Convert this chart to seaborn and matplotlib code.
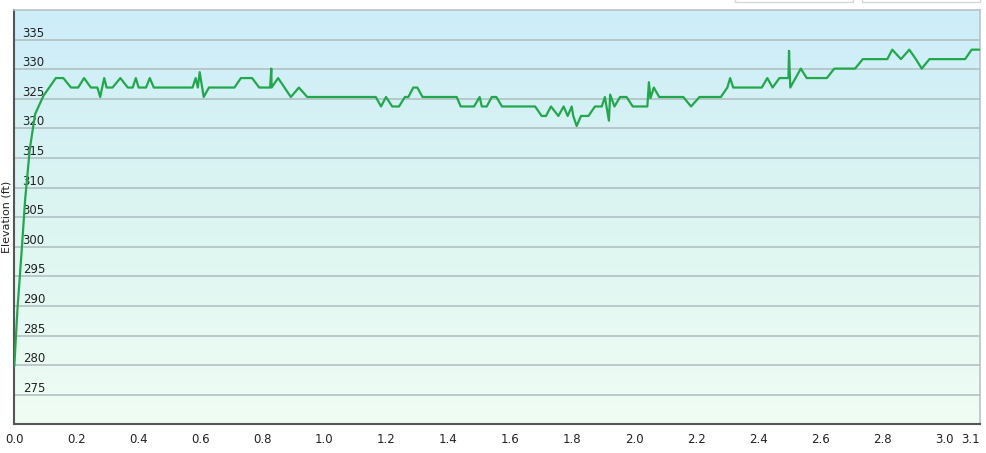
import numpy as np
import pandas as pd
import matplotlib
matplotlib.use("Agg")
import matplotlib.pyplot as plt
from matplotlib.colors import LinearSegmentedColormap
from matplotlib.patches import Rectangle
from matplotlib.transforms import ScaledTranslation
import seaborn as sns

# distance (mi) and elevation (ft)
distance = [0.000, 0.010, 0.015, 0.024, 0.035, 0.050, 0.067, 0.094, 0.134, 0.158, 0.183,
            0.206, 0.225, 0.247, 0.268, 0.277, 0.290, 0.298, 0.317, 0.342, 0.366,
            0.382, 0.392, 0.401, 0.425, 0.437, 0.450, 0.575, 0.585, 0.592, 0.598,
            0.611, 0.628, 0.710, 0.731, 0.767, 0.790, 0.825, 0.829, 0.830, 0.851,
            0.892, 0.918, 0.945, 1.166, 1.183, 1.199, 1.219, 1.241, 1.260, 1.271,
            1.287, 1.300, 1.317, 1.427, 1.440, 1.483, 1.501, 1.508, 1.524, 1.540,
            1.555, 1.573, 1.680, 1.701, 1.715, 1.731, 1.755, 1.772, 1.785, 1.798,
            1.803, 1.814, 1.828, 1.852, 1.873, 1.895, 1.905, 1.918, 1.922, 1.936,
            1.954, 1.975, 1.995, 2.042, 2.047, 2.052, 2.063, 2.080, 2.158, 2.183,
            2.210, 2.279, 2.300, 2.309, 2.319, 2.411, 2.429, 2.446, 2.468, 2.497,
            2.499, 2.503, 2.537, 2.556, 2.621, 2.645, 2.712, 2.737, 2.816, 2.832,
            2.860, 2.887, 2.908, 2.927, 2.952, 3.067, 3.088, 3.113]
elevation = [279.8, 289.3, 293.0, 299.5, 308.0, 316.5, 322.4, 325.5, 328.5, 328.5, 326.9,
             326.9, 328.5, 326.9, 326.9, 325.3, 328.5, 326.9, 326.9, 328.5, 326.9,
             326.9, 328.5, 326.9, 326.9, 328.5, 326.9, 326.9, 328.5, 326.9, 329.5,
             325.3, 326.9, 326.9, 328.5, 328.5, 326.9, 326.9, 330.1, 326.9, 328.5,
             325.3, 326.9, 325.3, 325.3, 323.7, 325.3, 323.7, 323.7, 325.3, 325.3,
             326.9, 326.9, 325.3, 325.3, 323.7, 323.7, 325.3, 323.7, 323.7, 325.3,
             325.3, 323.7, 323.7, 322.1, 322.1, 323.7, 322.1, 323.7, 322.1, 323.7,
             322.1, 320.4, 322.1, 322.1, 323.7, 323.7, 325.3, 321.3, 325.7, 323.7,
             325.3, 325.3, 323.7, 323.7, 327.8, 325.1, 326.9, 325.3, 325.3, 323.7,
             325.3, 325.3, 326.9, 328.5, 326.9, 326.9, 328.5, 326.9, 328.5, 328.5,
             333.1, 326.9, 330.1, 328.5, 328.5, 330.1, 330.1, 331.7, 331.7, 333.3,
             331.7, 333.3, 331.7, 330.1, 331.7, 331.7, 333.3, 333.3]

x_ticks = [0.0, 0.2, 0.4, 0.6, 0.8, 1.0, 1.2, 1.4, 1.6, 1.8, 2.0, 2.2, 2.4, 2.6, 2.8, 3.0]
y_ticks = [275, 280, 285, 290, 295, 300, 305, 310, 315, 320, 325, 330, 335]

df = pd.DataFrame({"Distance": distance, "Elevation": elevation})

sns.set_style("white")
plt.rcParams["font.family"] = ["DejaVu Sans"]

fig = plt.figure(figsize=(9.86, 4.53), dpi=100)
ax = fig.add_axes([14.3 / 986, 1 - 424.3 / 453, (980 - 14.3) / 986, (424.3 - 10) / 453])

xmax = distance[-1] + 0.002
ymin, ymax = 270, 340

# background gradient, light blue on top to pale green at the bottom
cmap = LinearSegmentedColormap.from_list("bg", ["#f0fdf4", "#dcf5f1", "#cdedf9"])
grad = np.linspace(0, 1, 256).reshape(-1, 1)
ax.imshow(grad, cmap=cmap, origin="lower", aspect="auto",
          extent=[0, xmax, ymin, ymax], zorder=0)

sns.lineplot(data=df, x="Distance", y="Elevation", ax=ax, color="#22a84c",
             linewidth=1.6, estimator=None, sort=False, zorder=3)

ax.set_xlim(0, xmax)
ax.set_ylim(ymin, ymax)

ax.set_xticks(x_ticks + [xmax])
ax.set_xticklabels([f"{t:.1f}" for t in x_ticks] + ["3.1"], fontsize=8.5, color="#222222")
ax.set_yticks(y_ticks)
ax.set_yticklabels([str(t) for t in y_ticks], fontsize=8.5, color="#222222")
for lab in ax.get_yticklabels():
    lab.set_horizontalalignment("left")
    lab.set_verticalalignment("bottom")
last = ax.get_xticklabels()[-1]
last.set_horizontalalignment("right")
last.set_transform(last.get_transform() + ScaledTranslation(-3 / 100, 0, fig.dpi_scale_trans))

ax.tick_params(axis="y", length=0, pad=-6)
ax.tick_params(axis="x", length=4, width=1, color="#555555", pad=2)

ax.set_axisbelow(True)
ax.grid(axis="y", color="#b2c0c3", linewidth=1.2)
ax.grid(axis="x", visible=False)

for side in ["top", "right"]:
    ax.spines[side].set_color("#b8c3c7")
    ax.spines[side].set_linewidth(1.2)
for side in ["left", "bottom"]:
    ax.spines[side].set_color("#555555")
    ax.spines[side].set_linewidth(1.5)

ax.set_xlabel("")
ax.set_ylabel("Elevation (ft)", fontsize=8, color="#222222")
ax.yaxis.set_label_coords(-0.003, 0.5)

# the two boxes peeking in at the top right
for x0 in [735, 862]:
    fig.patches.append(Rectangle((x0 / 986, 1 - 1.5 / 453), 118 / 986, 0.02,
                                 transform=fig.transFigure, facecolor="white",
                                 edgecolor="#d4d8da", linewidth=1))

fig.savefig("out.png", dpi=100)
